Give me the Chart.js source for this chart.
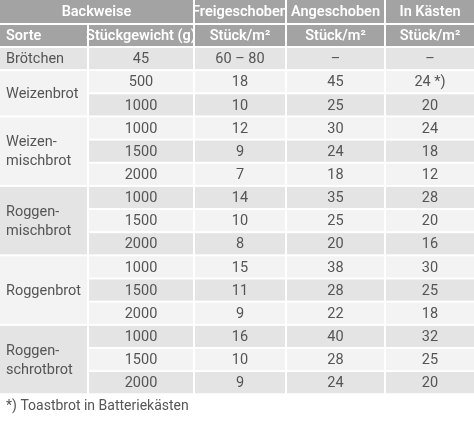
<!DOCTYPE html>
<html><head><meta charset="utf-8">
<script src="https://cdn.jsdelivr.net/npm/chart.js@4/dist/chart.umd.min.js"></script>
<style>html,body{margin:0;padding:0;background:#fff;overflow:hidden}canvas{display:block}</style>
</head><body><canvas id="c" width="474" height="441" style="width:474px;height:441px"></canvas>
<script>
// Tabellendaten
var headTop = ['Backweise', 'Freigeschoben', 'Angeschoben', 'In Kästen'];
var headSub = ['Sorte', 'Stückgewicht (g)', 'Stück/m²', 'Stück/m²', 'Stück/m²'];
var sorten = ['Brötchen', 'Weizenbrot', 'Weizen-\nmischbrot', 'Roggen-\nmischbrot', 'Roggenbrot', 'Roggen-\nschrotbrot'];
var gruppenGroesse = [1, 2, 3, 3, 3, 3];
var gewicht = ['45', '500', '1000', '1000', '1500', '2000', '1000', '1500', '2000', '1000', '1500', '2000', '1000', '1500', '2000'];
var freigeschoben = ['60 – 80', '18', '10', '12', '9', '7', '14', '10', '8', '15', '11', '9', '16', '10', '9'];
var angeschoben = ['–', '45', '25', '30', '24', '18', '35', '25', '20', '38', '28', '22', '40', '28', '24'];
var inKaesten = ['–', '24 *)', '20', '24', '18', '12', '28', '20', '16', '30', '25', '18', '32', '25', '20'];
var fussnote = '*) Toastbrot in Batteriekästen';

var colEdges = [0, 88, 194, 286, 385, 474];
var HEAD = '#a3a3a3', DARK = '#e4e4e4', LIGHT = '#f3f3f3';
var sorteFarbe = [DARK, LIGHT, LIGHT, DARK, LIGHT, DARK];

var tablePlugin = {
    id: 'table',
    afterDraw: function (chart) {
        var ctx = chart.ctx, xs = chart.scales.x, ys = chart.scales.y;
        var X = function (v) { return xs.getPixelForValue(v); };
        var Y = function (v) { return ys.getPixelForValue(v); };
        var g = 1;
        function cell(c0, c1, r0, r1, fill, text, opt) {
            opt = opt || {};
            var x0 = X(c0) + (c0 > 0 ? g : 0), x1 = X(c1) - (c1 < 474 ? g : 0);
            var y0 = Y(r0) + g, y1 = Y(r1) - g;
            ctx.fillStyle = fill;
            ctx.fillRect(x0, y0, x1 - x0, y1 - y0);
            ctx.fillStyle = opt.color || '#555';
            ctx.font = (opt.bold ? '600 ' : '') + '14.5px Roboto, "Open Sans", sans-serif';
            ctx.textBaseline = 'middle';
            var lines = text.split('\n');
            var cy = (y0 + y1) / 2 + 1, lh = 19;
            lines.forEach(function (t, i) {
                var yy = cy + (i - (lines.length - 1) / 2) * lh;
                if (opt.left) { ctx.textAlign = 'left'; ctx.fillText(t, x0 + 6, yy); }
                else { ctx.textAlign = 'center'; ctx.fillText(t, (x0 + x1) / 2, yy); }
            });
        }
        var h1 = 0, h2 = 24, b0 = 47, rh = 23.15;
        ctx.save();
        // Kopfzeilen
        cell(colEdges[0], colEdges[2], h1 - 1, h2, HEAD, headTop[0], { bold: true, color: '#fff' });
        for (var i = 1; i < headTop.length; i++)
            cell(colEdges[i + 1], colEdges[i + 2], h1 - 1, h2, HEAD, headTop[i], { bold: true, color: '#fff' });
        headSub.forEach(function (t, i) {
            cell(colEdges[i], colEdges[i + 1], h2, b0, HEAD, t, { bold: true, color: '#fff', left: i === 0 });
        });
        // Datenzeilen
        var r = 0;
        sorten.forEach(function (s, gi) {
            var n = gruppenGroesse[gi];
            cell(colEdges[0], colEdges[1], b0 + r * rh, b0 + (r + n) * rh, sorteFarbe[gi], s, { left: true });
            for (var k = 0; k < n; k++) {
                var row = r + k, fill = row % 2 === 0 ? DARK : LIGHT;
                var vals = [gewicht[row], freigeschoben[row], angeschoben[row], inKaesten[row]];
                vals.forEach(function (v, c) {
                    cell(colEdges[c + 1], colEdges[c + 2], b0 + row * rh, b0 + (row + 1) * rh, fill, v);
                });
            }
            r += n;
        });
        // Fußnote
        ctx.fillStyle = '#555';
        ctx.font = '14px "Liberation Sans Narrow", Roboto, sans-serif';
        ctx.textAlign = 'left';
        ctx.textBaseline = 'middle';
        ctx.fillText(fussnote, X(6), Y(b0 + r * rh + 12));
        ctx.restore();
    }
};

new Chart(document.getElementById('c'), {
    type: 'scatter',
    data: { datasets: [{ data: [] }] },
    options: {
        responsive: false,
        devicePixelRatio: 1,
        animation: false,
        layout: { padding: 0 },
        plugins: { legend: { display: false }, tooltip: { enabled: false } },
        scales: {
            x: { type: 'linear', min: 0, max: 474, display: false },
            y: { type: 'linear', min: 0, max: 441, reverse: true, display: false }
        }
    },
    plugins: [tablePlugin]
});
</script>
</body></html>
